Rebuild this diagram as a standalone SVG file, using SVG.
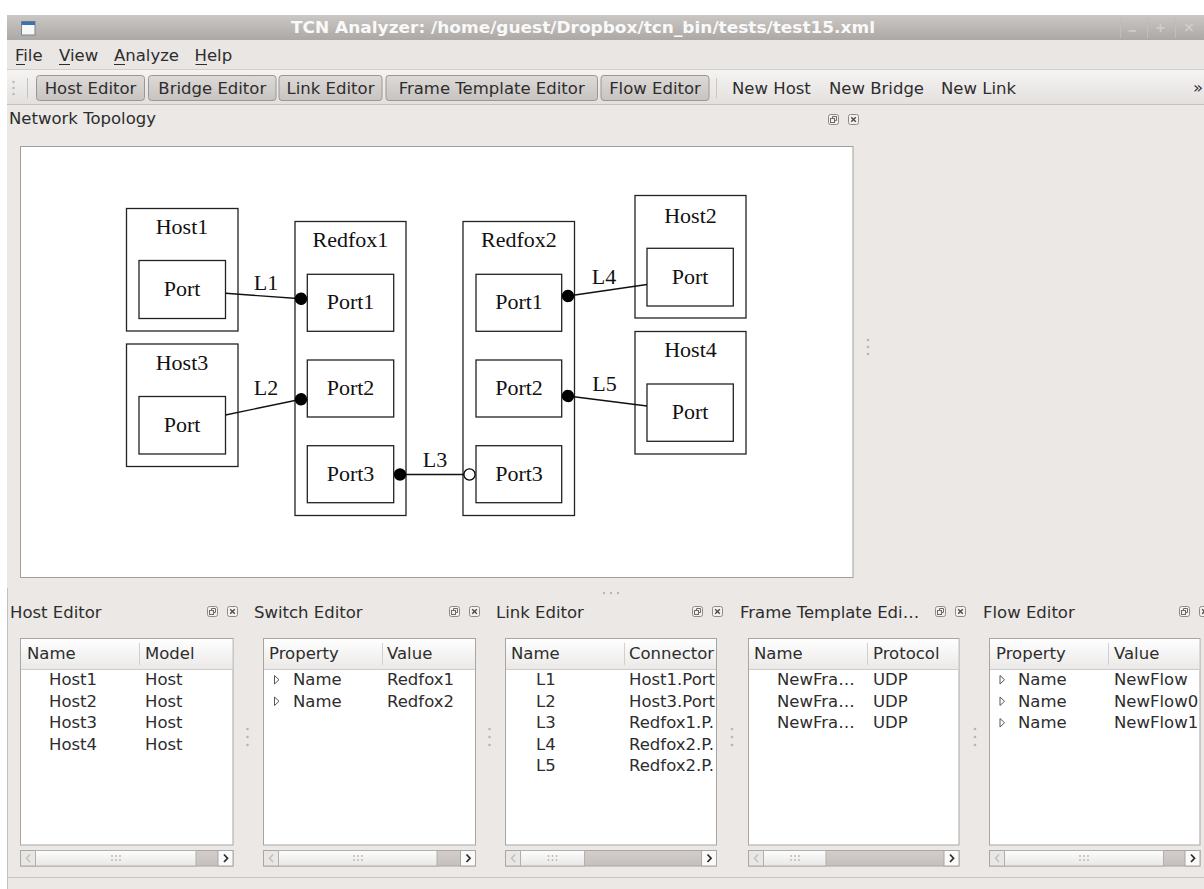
<svg xmlns="http://www.w3.org/2000/svg" width="1204" height="889" viewBox="0 0 1204 889">
<defs>
<style>
.ui{font-family:"DejaVu Sans",sans-serif;font-size:16.5px;fill:#2d2d2d}
.ttl{font-family:"DejaVu Sans",sans-serif;font-size:16.5px;font-weight:bold;fill:#f9f9f9}
.dg{font-family:"Liberation Serif",serif;font-size:22px;fill:#111;text-anchor:middle}
.box{fill:none;stroke:#222;stroke-width:1.3}
.port{fill:#fff;stroke:#222;stroke-width:1.3}
.edge{fill:none;stroke:#111;stroke-width:1.4}
.btn{fill:url(#gBtn);stroke:#9a9694;stroke-width:1}
.bt{text-anchor:middle}
.tbl{fill:#fff;stroke:#a9a5a2;stroke-width:1}
.hdr{fill:url(#gHdr)}
.hl{stroke:#cfcbc8;stroke-width:1}
.sep{stroke:#d3cfcc;stroke-width:1}
.trk{fill:url(#gTrack);stroke:#aaa6a3;stroke-width:1}
.lb{fill:#e9e7e6;stroke:#aaa6a3;stroke-width:1}
.rb{fill:#fafafa;stroke:#aaa6a3;stroke-width:1}
.th{fill:url(#gThumb);stroke:#b3afac;stroke-width:1}
.cl{fill:none;stroke:#c2beba;stroke-width:1.4}
.cr{fill:none;stroke:#2f2f2f;stroke-width:1.8}
.gd{fill:#b9b5b2}
.ex{fill:none;stroke:#555;stroke-width:1}
.ul{stroke:#2d2d2d;stroke-width:1}
</style>
<linearGradient id="gTitle" x1="0" y1="0" x2="0" y2="1"><stop offset="0" stop-color="#cbc7c5"/><stop offset="1" stop-color="#aca8a6"/></linearGradient>
<linearGradient id="gTool" x1="0" y1="0" x2="0" y2="1"><stop offset="0" stop-color="#f5f4f3"/><stop offset="1" stop-color="#e3e0de"/></linearGradient>
<linearGradient id="gBtn" x1="0" y1="0" x2="0" y2="1"><stop offset="0" stop-color="#dedad8"/><stop offset="1" stop-color="#c7c3c1"/></linearGradient>
<linearGradient id="gHdr" x1="0" y1="0" x2="0" y2="1"><stop offset="0" stop-color="#ffffff"/><stop offset="1" stop-color="#ebe9e8"/></linearGradient>
<linearGradient id="gThumb" x1="0" y1="0" x2="0" y2="1"><stop offset="0" stop-color="#fdfdfd"/><stop offset="1" stop-color="#e8e7e6"/></linearGradient>
<linearGradient id="gTrack" x1="0" y1="0" x2="0" y2="1"><stop offset="0" stop-color="#d3cecb"/><stop offset="1" stop-color="#c5c0bd"/></linearGradient>
<marker id="dot" markerUnits="userSpaceOnUse" markerWidth="13" markerHeight="13" refX="6.5" refY="6.5" orient="auto"><circle cx="6.5" cy="6.5" r="6.2" fill="#000"/></marker>
<marker id="odot" markerUnits="userSpaceOnUse" markerWidth="14" markerHeight="14" refX="7" refY="7" orient="auto"><circle cx="7" cy="7" r="5.6" fill="#fff" stroke="#000" stroke-width="1.3"/></marker>
<symbol id="icF" viewBox="0 0 11 11"><rect x="0.5" y="0.5" width="10" height="10" rx="2" fill="#f3f1f0" stroke="#8e8a88"/><rect x="2.5" y="4.5" width="4" height="4" fill="none" stroke="#6e6a68"/><path d="M4.5 4.5V2.5h4v4h-2" fill="none" stroke="#6e6a68"/></symbol>
<symbol id="icX" viewBox="0 0 11 11"><rect x="0.5" y="0.5" width="10" height="10" rx="2" fill="#f3f1f0" stroke="#8e8a88"/><path d="M3.2 3.2l4.6 4.6M7.8 3.2l-4.6 4.6" stroke="#4e4a48" stroke-width="1.4"/></symbol>
<clipPath id="cHost"><rect x="21" y="639" width="211.5" height="205.5"/></clipPath>
<clipPath id="cSw"><rect x="264" y="639" width="211" height="205.5"/></clipPath>
<clipPath id="cLink"><rect x="506" y="639" width="210" height="205.5"/></clipPath>
<clipPath id="cFrame"><rect x="749" y="639" width="209.5" height="205.5"/></clipPath>
<clipPath id="cFlow"><rect x="990" y="639" width="209.5" height="205.5"/></clipPath>
</defs>

<!-- screen / window chrome -->
<rect x="0" y="0" width="1204" height="889" fill="#ffffff"/>
<rect x="7" y="15" width="1197" height="874" fill="#ebe8e6"/>
<rect x="7" y="15" width="1197" height="25" fill="url(#gTitle)"/>
<rect x="21.5" y="21.5" width="13.5" height="13.5" fill="#f7f7f7" stroke="#7a8492"/>
<rect x="21.5" y="21.5" width="13.5" height="3.5" fill="#3e6fae"/>
<text class="ttl" x="583" y="33" text-anchor="middle" textLength="584" lengthAdjust="spacingAndGlyphs">TCN Analyzer: /home/guest/Dropbox/tcn_bin/tests/test15.xml</text>
<g stroke="#c1bdbb" stroke-width="1">
<line x1="1120.5" y1="17" x2="1120.5" y2="38"/><line x1="1147.5" y1="17" x2="1147.5" y2="38"/><line x1="1175.5" y1="17" x2="1175.5" y2="38"/>
</g>
<g stroke="#d2cecc" stroke-width="1.6">
<line x1="1128.5" y1="31" x2="1136" y2="31"/>
<line x1="1156.5" y1="28" x2="1164.5" y2="28"/><line x1="1160.5" y1="24" x2="1160.5" y2="32"/>
<line x1="1185.5" y1="24" x2="1192.5" y2="31"/><line x1="1192.5" y1="24" x2="1185.5" y2="31"/>
</g>

<!-- menu bar -->
<rect x="7" y="40" width="1197" height="29" fill="#e9e6e4"/>
<line x1="7" y1="69.5" x2="1204" y2="69.5" stroke="#d2cecb"/>
<text class="ui" x="15" y="61">File</text>
<text class="ui" x="59" y="61">View</text>
<text class="ui" x="114" y="61">Analyze</text>
<text class="ui" x="194.5" y="61">Help</text>
<line class="ul" x1="16" y1="64.5" x2="25" y2="64.5"/>
<line class="ul" x1="59" y1="64.5" x2="70" y2="64.5"/>
<line class="ul" x1="114" y1="64.5" x2="125" y2="64.5"/>
<line class="ul" x1="195.5" y1="64.5" x2="207" y2="64.5"/>

<!-- toolbar -->
<rect x="7" y="70" width="1197" height="34" fill="url(#gTool)"/>
<line x1="7" y1="104.5" x2="1204" y2="104.5" stroke="#c4c0bd"/>
<g fill="#bbb7b4"><circle cx="13.5" cy="82" r="1.2"/><circle cx="13.5" cy="88" r="1.2"/><circle cx="13.5" cy="94" r="1.2"/></g>
<line x1="27.5" y1="78" x2="27.5" y2="98" stroke="#c6c2bf"/>
<rect class="btn" x="36.5" y="75.5" width="108" height="25" rx="3"/>
<text class="ui bt" x="90.5" y="93.5">Host Editor</text>
<rect class="btn" x="148.5" y="75.5" width="127.5" height="25" rx="3"/>
<text class="ui bt" x="212.3" y="93.5">Bridge Editor</text>
<rect class="btn" x="279" y="75.5" width="103" height="25" rx="3"/>
<text class="ui bt" x="330.5" y="93.5">Link Editor</text>
<rect class="btn" x="386" y="75.5" width="211.5" height="25" rx="3"/>
<text class="ui bt" x="491.7" y="93.5">Frame Template Editor</text>
<rect class="btn" x="601" y="75.5" width="108" height="25" rx="3"/>
<text class="ui bt" x="655" y="93.5">Flow Editor</text>
<line x1="716.5" y1="78" x2="716.5" y2="98" stroke="#cbc7c4"/>
<text class="ui" x="732" y="93.5">New Host</text>
<text class="ui" x="829" y="93.5">New Bridge</text>
<text class="ui" x="941" y="93.5">New Link</text>
<text class="ui" x="1193" y="93" font-size="13">»</text>

<!-- Network Topology dock -->
<text class="ui" x="9" y="124">Network Topology</text>
<use href="#icF" x="828" y="114" width="11" height="11"/>
<use href="#icX" x="848" y="114" width="11" height="11"/>
<rect x="20.5" y="146.5" width="832.5" height="431" fill="#ffffff" stroke="#a29e9b"/>
<g class="gd"><circle cx="868" cy="340" r="1.3"/><circle cx="868" cy="347" r="1.3"/><circle cx="868" cy="354" r="1.3"/></g>
<g class="gd"><circle cx="604" cy="593" r="1.2"/><circle cx="611" cy="593" r="1.2"/><circle cx="618" cy="593" r="1.2"/></g>

<!-- diagram nodes -->
<g id="host1">
<rect class="box" x="126.5" y="208.5" width="111.5" height="122.5"/>
<text class="dg" x="182" y="234">Host1</text>
<g id="host1-port"><rect class="port" x="139" y="260.5" width="86.5" height="58"/><text class="dg" x="182" y="296">Port</text></g>
</g>
<g id="host3">
<rect class="box" x="126.5" y="344" width="111.5" height="122.5"/>
<text class="dg" x="182" y="370">Host3</text>
<g id="host3-port"><rect class="port" x="139" y="396.5" width="86.5" height="57.5"/><text class="dg" x="182" y="432">Port</text></g>
</g>
<g id="redfox1">
<rect class="box" x="295" y="221.5" width="111" height="294"/>
<text class="dg" x="350.5" y="247">Redfox1</text>
<g id="redfox1-port1"><rect class="port" x="307.3" y="274.3" width="86.4" height="57"/><text class="dg" x="350.5" y="309">Port1</text></g>
<g id="redfox1-port2"><rect class="port" x="307.3" y="360" width="86.4" height="57"/><text class="dg" x="350.5" y="395">Port2</text></g>
<g id="redfox1-port3"><rect class="port" x="307.3" y="445.7" width="86.4" height="57"/><text class="dg" x="350.5" y="481">Port3</text></g>
</g>
<g id="redfox2">
<rect class="box" x="463" y="221.5" width="111.5" height="294"/>
<text class="dg" x="519" y="247">Redfox2</text>
<g id="redfox2-port1"><rect class="port" x="476" y="274.3" width="85.7" height="57"/><text class="dg" x="519" y="309">Port1</text></g>
<g id="redfox2-port2"><rect class="port" x="476" y="360" width="85.7" height="57"/><text class="dg" x="519" y="395">Port2</text></g>
<g id="redfox2-port3"><rect class="port" x="476" y="445.7" width="85.7" height="57"/><text class="dg" x="519" y="481">Port3</text></g>
</g>
<g id="host2">
<rect class="box" x="635" y="195.5" width="111" height="122.5"/>
<text class="dg" x="690.5" y="223">Host2</text>
<g id="host2-port"><rect class="port" x="647" y="248.3" width="86.3" height="57.7"/><text class="dg" x="690" y="284">Port</text></g>
</g>
<g id="host4">
<rect class="box" x="635" y="331.5" width="111" height="122.5"/>
<text class="dg" x="690.5" y="357">Host4</text>
<g id="host4-port"><rect class="port" x="647" y="384" width="86.3" height="57.3"/><text class="dg" x="690" y="419">Port</text></g>
</g>

<!-- connectors -->
<g id="connectors">
<path class="edge" d="M225.5 293.3L301 298.7" marker-end="url(#dot)"/>
<text class="dg" x="266" y="290">L1</text>
<path class="edge" d="M225.5 415L301 399.3" marker-end="url(#dot)"/>
<text class="dg" x="266" y="395">L2</text>
<path class="edge" d="M400 474.5L469.5 474.5" marker-start="url(#dot)" marker-end="url(#odot)"/>
<text class="dg" x="435" y="466.7">L3</text>
<path class="edge" d="M568 296L647 284.5" marker-start="url(#dot)"/>
<text class="dg" x="604" y="284">L4</text>
<path class="edge" d="M568 396L647 406" marker-start="url(#dot)"/>
<text class="dg" x="604.5" y="391">L5</text>
</g>

<!-- bottom docks -->
<line x1="7.5" y1="588" x2="7.5" y2="889" stroke="#c3bfbc"/>
<line x1="7" y1="877.5" x2="1204" y2="877.5" stroke="#c8c4c1"/>

<text class="ui" x="10" y="617.5">Host Editor</text>
<use href="#icF" x="207" y="606" width="11" height="11"/><use href="#icX" x="227" y="606" width="11" height="11"/>
<text class="ui" x="254" y="617.5">Switch Editor</text>
<use href="#icF" x="449" y="606" width="11" height="11"/><use href="#icX" x="469" y="606" width="11" height="11"/>
<text class="ui" x="496" y="617.5">Link Editor</text>
<use href="#icF" x="692" y="606" width="11" height="11"/><use href="#icX" x="712" y="606" width="11" height="11"/>
<text class="ui" x="740" y="617.5">Frame Template Edi…</text>
<use href="#icF" x="935" y="606" width="11" height="11"/><use href="#icX" x="955" y="606" width="11" height="11"/>
<text class="ui" x="983" y="617.5">Flow Editor</text>
<use href="#icF" x="1179" y="606" width="11" height="11"/><use href="#icX" x="1199" y="606" width="11" height="11"/>

<g class="gd">
<circle cx="247.5" cy="729" r="1.3"/><circle cx="247.5" cy="737" r="1.3"/><circle cx="247.5" cy="745" r="1.3"/>
<circle cx="489.5" cy="729" r="1.3"/><circle cx="489.5" cy="737" r="1.3"/><circle cx="489.5" cy="745" r="1.3"/>
<circle cx="732" cy="729" r="1.3"/><circle cx="732" cy="737" r="1.3"/><circle cx="732" cy="745" r="1.3"/>
<circle cx="975" cy="729" r="1.3"/><circle cx="975" cy="737" r="1.3"/><circle cx="975" cy="745" r="1.3"/>
</g>

<!-- Host table -->
<rect class="tbl" x="20.5" y="638.5" width="212.5" height="206.5"/>
<g clip-path="url(#cHost)">
<rect class="hdr" x="21" y="639" width="211.5" height="30"/>
<line class="hl" x1="21" y1="669.5" x2="232.5" y2="669.5"/>
<line class="sep" x1="139.5" y1="643" x2="139.5" y2="665"/>
<text class="ui" x="27" y="659">Name</text><text class="ui" x="145" y="659">Model</text>
<text class="ui" x="49" y="685">Host1</text><text class="ui" x="145" y="685">Host</text>
<text class="ui" x="49" y="706.5">Host2</text><text class="ui" x="145" y="706.5">Host</text>
<text class="ui" x="49" y="728">Host3</text><text class="ui" x="145" y="728">Host</text>
<text class="ui" x="49" y="749.5">Host4</text><text class="ui" x="145" y="749.5">Host</text>
</g>

<!-- Switch table -->
<rect class="tbl" x="263.5" y="638.5" width="212" height="206.5"/>
<g clip-path="url(#cSw)">
<rect class="hdr" x="264" y="639" width="211" height="30"/>
<line class="hl" x1="264" y1="669.5" x2="475" y2="669.5"/>
<line class="sep" x1="382.5" y1="643" x2="382.5" y2="665"/>
<text class="ui" x="269" y="659">Property</text><text class="ui" x="387" y="659">Value</text>
<path class="ex" d="M274.5 675.5v8.5l4.5-4.25z"/><text class="ui" x="293" y="685">Name</text><text class="ui" x="387" y="685">Redfox1</text>
<path class="ex" d="M274.5 697v8.5l4.5-4.25z"/><text class="ui" x="293" y="706.5">Name</text><text class="ui" x="387" y="706.5">Redfox2</text>
</g>

<!-- Link table -->
<rect class="tbl" x="505.5" y="638.5" width="211" height="206.5"/>
<g clip-path="url(#cLink)">
<rect class="hdr" x="506" y="639" width="210" height="30"/>
<line class="hl" x1="506" y1="669.5" x2="716" y2="669.5"/>
<line class="sep" x1="624.5" y1="643" x2="624.5" y2="665"/>
<text class="ui" x="511" y="659">Name</text><text class="ui" x="629" y="659">Connector</text>
<text class="ui" x="536" y="685">L1</text><text class="ui" x="629" y="685">Host1.Port</text>
<text class="ui" x="536" y="706.5">L2</text><text class="ui" x="629" y="706.5">Host3.Port</text>
<text class="ui" x="536" y="728">L3</text><text class="ui" x="629" y="728">Redfox1.P.</text>
<text class="ui" x="536" y="749.5">L4</text><text class="ui" x="629" y="749.5">Redfox2.P.</text>
<text class="ui" x="536" y="771">L5</text><text class="ui" x="629" y="771">Redfox2.P.</text>
</g>

<!-- Frame table -->
<rect class="tbl" x="748.5" y="638.5" width="210.5" height="206.5"/>
<g clip-path="url(#cFrame)">
<rect class="hdr" x="749" y="639" width="209.5" height="30"/>
<line class="hl" x1="749" y1="669.5" x2="958.5" y2="669.5"/>
<line class="sep" x1="867.5" y1="643" x2="867.5" y2="665"/>
<text class="ui" x="754" y="659">Name</text><text class="ui" x="873" y="659">Protocol</text>
<text class="ui" x="777" y="685">NewFra…</text><text class="ui" x="873" y="685">UDP</text>
<text class="ui" x="777" y="706.5">NewFra…</text><text class="ui" x="873" y="706.5">UDP</text>
<text class="ui" x="777" y="728">NewFra…</text><text class="ui" x="873" y="728">UDP</text>
</g>

<!-- Flow table -->
<rect class="tbl" x="989.5" y="638.5" width="210.5" height="206.5"/>
<g clip-path="url(#cFlow)">
<rect class="hdr" x="990" y="639" width="209.5" height="30"/>
<line class="hl" x1="990" y1="669.5" x2="1199.5" y2="669.5"/>
<line class="sep" x1="1108.5" y1="643" x2="1108.5" y2="665"/>
<text class="ui" x="996" y="659">Property</text><text class="ui" x="1114" y="659">Value</text>
<path class="ex" d="M1000 675.5v8.5l4.5-4.25z"/><text class="ui" x="1018" y="685">Name</text><text class="ui" x="1114" y="685">NewFlow</text>
<path class="ex" d="M1000 697v8.5l4.5-4.25z"/><text class="ui" x="1018" y="706.5">Name</text><text class="ui" x="1114" y="706.5">NewFlow0</text>
<path class="ex" d="M1000 718.5v8.5l4.5-4.25z"/><text class="ui" x="1018" y="728">Name</text><text class="ui" x="1114" y="728">NewFlow1</text>
</g>

<!-- scrollbars -->
<g id="sb-host">
<rect class="trk" x="20.5" y="850.5" width="212.5" height="15.5"/>
<rect class="lb" x="20.5" y="850.5" width="15" height="15.5"/><path class="cl" d="M30 854.5l-3.5 3.75l3.5 3.75"/>
<rect class="th" x="35.5" y="850.5" width="160.5" height="15.5"/>
<g class="gd"><circle cx="112" cy="856" r="0.9"/><circle cx="116" cy="856" r="0.9"/><circle cx="120" cy="856" r="0.9"/><circle cx="112" cy="860" r="0.9"/><circle cx="116" cy="860" r="0.9"/><circle cx="120" cy="860" r="0.9"/></g>
<rect class="rb" x="218" y="850.5" width="15" height="15.5"/><path class="cr" d="M224 854.5l3.5 3.75l-3.5 3.75"/>
</g>
<g id="sb-switch">
<rect class="trk" x="263.5" y="850.5" width="212" height="15.5"/>
<rect class="lb" x="263.5" y="850.5" width="15" height="15.5"/><path class="cl" d="M273 854.5l-3.5 3.75l3.5 3.75"/>
<rect class="th" x="278.5" y="850.5" width="158.5" height="15.5"/>
<g class="gd"><circle cx="354" cy="856" r="0.9"/><circle cx="358" cy="856" r="0.9"/><circle cx="362" cy="856" r="0.9"/><circle cx="354" cy="860" r="0.9"/><circle cx="358" cy="860" r="0.9"/><circle cx="362" cy="860" r="0.9"/></g>
<rect class="rb" x="460.5" y="850.5" width="15" height="15.5"/><path class="cr" d="M466.5 854.5l3.5 3.75l-3.5 3.75"/>
</g>
<g id="sb-link">
<rect class="trk" x="505.5" y="850.5" width="211" height="15.5"/>
<rect class="lb" x="505.5" y="850.5" width="15" height="15.5"/><path class="cl" d="M515 854.5l-3.5 3.75l3.5 3.75"/>
<rect class="th" x="520.5" y="850.5" width="64" height="15.5"/>
<g class="gd"><circle cx="548.5" cy="856" r="0.9"/><circle cx="552.5" cy="856" r="0.9"/><circle cx="556.5" cy="856" r="0.9"/><circle cx="548.5" cy="860" r="0.9"/><circle cx="552.5" cy="860" r="0.9"/><circle cx="556.5" cy="860" r="0.9"/></g>
<rect class="rb" x="701.5" y="850.5" width="15" height="15.5"/><path class="cr" d="M707.5 854.5l3.5 3.75l-3.5 3.75"/>
</g>
<g id="sb-frame">
<rect class="trk" x="748.5" y="850.5" width="210.5" height="15.5"/>
<rect class="lb" x="748.5" y="850.5" width="15" height="15.5"/><path class="cl" d="M758 854.5l-3.5 3.75l3.5 3.75"/>
<rect class="th" x="763.5" y="850.5" width="62.5" height="15.5"/>
<g class="gd"><circle cx="791" cy="856" r="0.9"/><circle cx="795" cy="856" r="0.9"/><circle cx="799" cy="856" r="0.9"/><circle cx="791" cy="860" r="0.9"/><circle cx="795" cy="860" r="0.9"/><circle cx="799" cy="860" r="0.9"/></g>
<rect class="rb" x="944" y="850.5" width="15" height="15.5"/><path class="cr" d="M950 854.5l3.5 3.75l-3.5 3.75"/>
</g>
<g id="sb-flow">
<rect class="trk" x="989.5" y="850.5" width="210.5" height="15.5"/>
<rect class="lb" x="989.5" y="850.5" width="15" height="15.5"/><path class="cl" d="M999 854.5l-3.5 3.75l3.5 3.75"/>
<rect class="th" x="1004.5" y="850.5" width="159" height="15.5"/>
<g class="gd"><circle cx="1080" cy="856" r="0.9"/><circle cx="1084" cy="856" r="0.9"/><circle cx="1088" cy="856" r="0.9"/><circle cx="1080" cy="860" r="0.9"/><circle cx="1084" cy="860" r="0.9"/><circle cx="1088" cy="860" r="0.9"/></g>
<rect class="rb" x="1185" y="850.5" width="15" height="15.5"/><path class="cr" d="M1191 854.5l3.5 3.75l-3.5 3.75"/>
</g>
</svg>
